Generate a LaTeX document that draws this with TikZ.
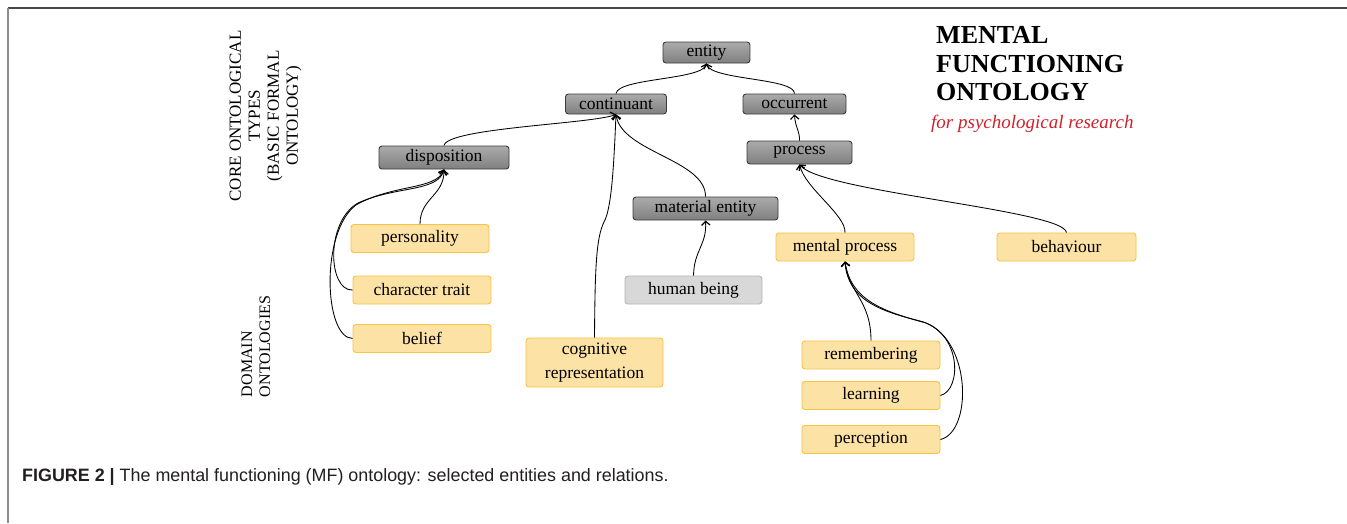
\documentclass[tikz,border=0pt]{standalone}
\usepackage{fontspec}
\setmainfont{Liberation Serif}
\newfontfamily\capfont{Liberation Sans}
\usetikzlibrary{arrows.meta}
\definecolor{yfill}{HTML}{FDE2A6}
\definecolor{ydraw}{HTML}{F6C343}
\definecolor{ddraw}{HTML}{3C3C3C}
\definecolor{lfill}{HTML}{D8D8D8}
\definecolor{ldraw}{HTML}{B5B5B5}
\definecolor{myred}{HTML}{D0202A}
\definecolor{captxt}{HTML}{231F20}
\begin{document}
\begin{tikzpicture}[x=1pt,y=-1pt,
  box/.style={rounded corners=3pt, line width=0.9pt, inner sep=0pt, align=center,
    font=\fontsize{17.5}{24}\selectfont},
  dark/.style={box, draw=ddraw, top color=black!33, bottom color=black!50, minimum height=21pt},
  yel/.style={box, draw=ydraw, fill=yfill, minimum height=28pt, minimum width=138pt},
  lite/.style={box, draw=ldraw, fill=lfill, minimum height=28pt, minimum width=137pt},
  link/.style={line width=0.85pt, -{Straight Barb[length=4pt,width=8.5pt,line width=1.2pt]}},
  caps/.style={font=\fontsize{17}{19}\selectfont, inner sep=0pt},
]
\useasboundingbox (0,0) rectangle (1347,523);
\fill[white] (0,0) rectangle (1347,523);
% frame
\draw[line width=2pt, black!72] (8,8) -- (1347,8);
\draw[line width=1.6pt, black!45] (8,8) -- (8,523);

% core nodes
\node[dark, minimum width=87pt] (entity) at (706.5,52.5) {entity};
\node[dark, minimum width=101pt, minimum height=20pt] (cont) at (616,104) {continuant};
\node[dark, minimum width=103pt, minimum height=20pt] (occ) at (794.5,104) {occurrent};
\node[dark, minimum width=130pt, minimum height=23pt] (disp) at (444,157.5) {disposition};
\node[dark, minimum width=105pt, minimum height=23pt] (proc) at (799.5,152.5) {process};
\node[dark, minimum width=145pt, minimum height=23pt] (mat) at (705.5,208.5) {material entity};

% domain nodes
\node[yel] (pers) at (420,238.5) {personality};
\node[yel] (ct) at (422,290) {character trait};
\node[yel] (bel) at (422,338.5) {belief};
\node[yel, minimum width=137pt, minimum height=49pt] (cog) at (594.5,362.5) {cognitive\\representation};
\node[lite] (hb) at (693.5,290) {human being};
\node[yel] (mp) at (845,247) {mental process};
\node[yel, minimum width=139pt] (beh) at (1066.5,247) {behaviour};
\node[yel] (rem) at (871,355) {remembering};
\node[yel] (learn) at (871,395.5) {learning};
\node[yel] (perc) at (871,439.5) {perception};

% connectors
\draw[link] (cont.north) .. controls (618,78) and (702,80) .. (entity.south);
\draw[link] (occ.north) .. controls (795,78) and (711,80) .. (entity.south);
\draw[link] (disp.north) .. controls (447,128) and (590,124) .. (cont.south);
\draw[link] (mat.north) .. controls (706,160) and (622,152) .. (cont.south);
\draw[link] (cog.north) .. controls (595,270) and (596,238) .. (604,222)
   .. controls (612,208) and (614,160) .. (cont.south);
\draw[link] (proc.north) .. controls (800,132) and (795,126) .. (occ.south);
\draw[link] (pers.north) .. controls (420,198) and (444,196) .. (disp.south);
\draw[link] (ct.west) .. controls (328,291) and (325,222) .. (358,203)
   .. controls (395,186) and (438,192) .. (disp.south);
\draw[link] (bel.west) .. controls (324,338) and (320,232) .. (356,205)
   .. controls (393,184) and (436,190) .. (disp.south);
\draw[link] (hb.north) .. controls (694,250) and (707,245) .. (mat.south);
\draw[link] (mp.north) .. controls (846,215) and (805,188) .. (proc.south);
\draw[link] (beh.north) .. controls (1064,210) and (822,192) .. (proc.south);
\draw[link] (rem.north) .. controls (871,300) and (848,292) .. (mp.south);
\draw[link] (learn.east) .. controls (962,390) and (962,332) .. (920,321)
   .. controls (880,311) and (848,300) .. (mp.south);
\draw[link] (perc.east) .. controls (972,432) and (972,342) .. (926,323)
   .. controls (882,311) and (851,300) .. (mp.south);

% side labels
\node[caps, rotate=90, align=center] (corelab) at (265.5,116) {CORE ONTOLOGICAL\\TYPES\\(BASIC FORMAL\\ONTOLOGY)};
\node[caps, rotate=90, align=left, font=\fontsize{16}{18}\selectfont] (domlab) at (256,346.5) {DOMAIN\\ONTOLOGIES};

% title
\node[anchor=base west, inner sep=0pt, font=\bfseries\fontsize{26}{29}\selectfont] (t1) at (936,43) {MENTAL};
\node[anchor=base west, inner sep=0pt, font=\bfseries\fontsize{26}{29}\selectfont] (t2) at (936,72) {FUNCTIONING};
\node[anchor=base west, inner sep=0pt, font=\bfseries\fontsize{26}{29}\selectfont] (t3) at (936,100.5) {ONTOLOGY};
\node[anchor=base west, inner sep=0pt, text=myred, font=\itshape\fontsize{19}{24}\selectfont] (t4) at (931,128) {for psychological research};

% caption
\node[anchor=base west, inner sep=0pt, text=captxt, font=\capfont\fontsize{17.9}{20}\selectfont] (cap) at (22,481) {\textbf{FIGURE 2 |} The mental functioning (MF) ontology: selected entities and relations.};
\end{tikzpicture}
\end{document}
